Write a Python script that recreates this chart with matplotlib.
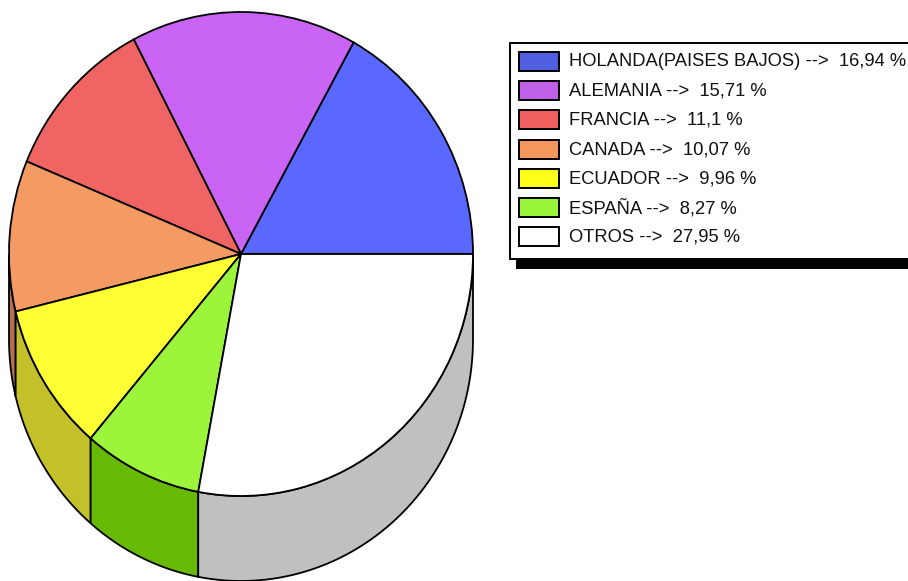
import numpy as np
import matplotlib
matplotlib.use("Agg")
import matplotlib.pyplot as plt
from matplotlib.patches import Polygon, Rectangle

countries = ["HOLANDA(PAISES BAJOS)", "ALEMANIA", "FRANCIA", "CANADA", "ECUADOR", "ESPAÑA", "OTROS"]
shares = [16.94, 15.71, 11.1, 10.07, 9.96, 8.27, 27.95]
share_labels = ["16,94", "15,71", "11,1", "10,07", "9,96", "8,27", "27,95"]
top_colors = ["#5a68ff", "#c964f5", "#f06464", "#f49b64", "#ffff33", "#9cf53a", "#ffffff"]
side_colors = ["#2d3480", "#64327a", "#783232", "#b0714c", "#c4c02a", "#66ba04", "#c0c0c0"]
swatch_colors = ["#4f5fe0", "#c05fe8", "#ee5f5f", "#f4975f", "#ffff1a", "#98f53a", "#ffffff"]

W, H = 908, 581
CX, CY, RX, RY = 241, 254, 232, 242
DEPTH = 85 / RY

plt.rcParams["font.family"] = ["Liberation Sans", "DejaVu Sans"]

fig = plt.figure(figsize=(W / 100, H / 100), dpi=100)

# pie axes: unit circle stretched to the ellipse in the picture
ax = fig.add_axes([0, 0, 1, 1])
ax.pie(shares, colors=top_colors, startangle=0, counterclock=True, radius=1,
       wedgeprops={"edgecolor": "black", "linewidth": 1.3, "zorder": 3})
ax.set_aspect("auto")
ax.set_xlim((0 - CX) / RX, (W - CX) / RX)
ax.set_ylim((CY - H) / RY, CY / RY)
ax.axis("off")

# side wall of the cake, only the front half shows
edges = np.concatenate([[0], np.cumsum(shares)]) / np.sum(shares) * 360
for i in range(len(shares)):
    a = max(edges[i], 180)
    b = min(edges[i + 1], 360)
    if b <= a:
        continue
    t = np.radians(np.linspace(a, b, 60))
    x = np.cos(t)
    y = np.sin(t)
    pts = np.vstack([np.column_stack([x, y]),
                     np.column_stack([x[::-1], y[::-1] - DEPTH])])
    ax.add_patch(Polygon(pts, closed=True, facecolor=side_colors[i],
                         edgecolor="black", linewidth=1.3, zorder=1))

# legend, in pixel coordinates
lg = fig.add_axes([0, 0, 1, 1])
lg.set_xlim(0, W)
lg.set_ylim(H, 0)
lg.axis("off")
lg.patch.set_alpha(0)
lg.add_patch(Rectangle((516, 259), 400, 10, facecolor="black", edgecolor="none"))
lg.add_patch(Rectangle((509.5, 43), 410, 216, facecolor="white", edgecolor="black", linewidth=1.4))
for i, name in enumerate(countries):
    y = 52 + i * 29.2
    lg.add_patch(Rectangle((519, y), 40, 19, facecolor=swatch_colors[i],
                           edgecolor="black", linewidth=1.4))
    lg.text(569, y + 10, name + " -->  " + share_labels[i] + " %", fontsize=13.2,
            va="center", ha="left", color="#111111")

fig.savefig("out.png", dpi=100)
